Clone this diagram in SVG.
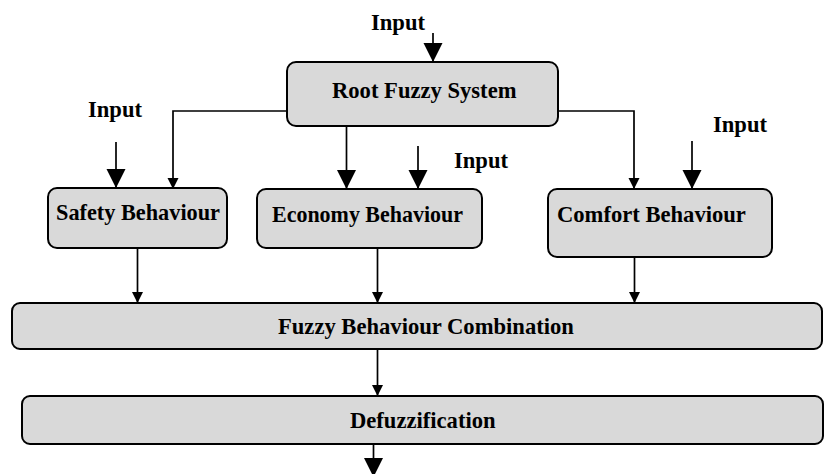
<svg xmlns="http://www.w3.org/2000/svg" width="824" height="474" viewBox="0 0 824 474">
<style>
.box{fill:#d9d9d9;stroke:#000;stroke-width:2}
.t{font-family:"Liberation Serif","Times New Roman",serif;font-weight:bold;font-size:22.6px;fill:#000}
.c{fill:none;stroke:#000;stroke-width:1.7}
.big{marker-end:url(#big)}
.sm{marker-end:url(#sm)}
</style>
<defs>
<marker id="big" markerUnits="userSpaceOnUse" markerWidth="20" markerHeight="20" refX="19" refY="9.5" orient="auto" viewBox="0 0 20 20">
<path d="M0,0 L19,9.5 L0,19 z" fill="#000"/>
</marker>
<marker id="sm" markerUnits="userSpaceOnUse" markerWidth="12" markerHeight="12" refX="11" refY="5.5" orient="auto" viewBox="0 0 12 12">
<path d="M0,0 L11,5.5 L0,11 z" fill="#000"/>
</marker>
</defs>
<g id="connectors">
<line class="c big" x1="433" y1="33" x2="433" y2="62"/>
<polyline class="c sm" points="287,111 173,111 173,189"/>
<line class="c big" x1="346.5" y1="126" x2="346.5" y2="189"/>
<line class="c big" x1="418" y1="146" x2="418" y2="189"/>
<polyline class="c sm" points="558,111 634,111 634,189"/>
<line class="c big" x1="692" y1="141" x2="692" y2="189"/>
<line class="c big" x1="116" y1="142" x2="116" y2="188"/>
<line class="c sm" x1="137.5" y1="248" x2="137.5" y2="303"/>
<line class="c sm" x1="377.5" y1="248" x2="377.5" y2="303"/>
<line class="c sm" x1="634.5" y1="257" x2="634.5" y2="303"/>
<line class="c sm" x1="377.5" y1="349" x2="377.5" y2="396"/>
<line class="c big" x1="373.5" y1="444" x2="373.5" y2="477"/>
</g>
<g id="input-labels">
<text class="t" x="371" y="30">Input</text>
<text class="t" x="88" y="117">Input</text>
<text class="t" x="454" y="168">Input</text>
<text class="t" x="713" y="132">Input</text>
</g>
<g id="root">
<rect class="box" x="287" y="62" width="271" height="64" rx="9"/>
<text class="t" x="332" y="98">Root Fuzzy System</text>
</g>
<g id="safety">
<rect class="box" x="48" y="188" width="179" height="60" rx="9"/>
<text class="t" x="56" y="220" textLength="164" lengthAdjust="spacingAndGlyphs">Safety Behaviour</text>
</g>
<g id="economy">
<rect class="box" x="257" y="189" width="225" height="59" rx="9"/>
<text class="t" x="272" y="222" textLength="191" lengthAdjust="spacingAndGlyphs">Economy Behaviour</text>
</g>
<g id="comfort">
<rect class="box" x="548" y="189" width="224" height="68" rx="9"/>
<text class="t" x="557" y="222">Comfort Behaviour</text>
</g>
<g id="combination">
<rect class="box" x="12" y="303" width="810" height="46" rx="8"/>
<text class="t" x="278" y="334">Fuzzy Behaviour Combination</text>
</g>
<g id="defuzzification">
<rect class="box" x="22" y="396" width="801" height="48" rx="8"/>
<text class="t" x="350" y="428">Defuzzification</text>
</g>
</svg>
